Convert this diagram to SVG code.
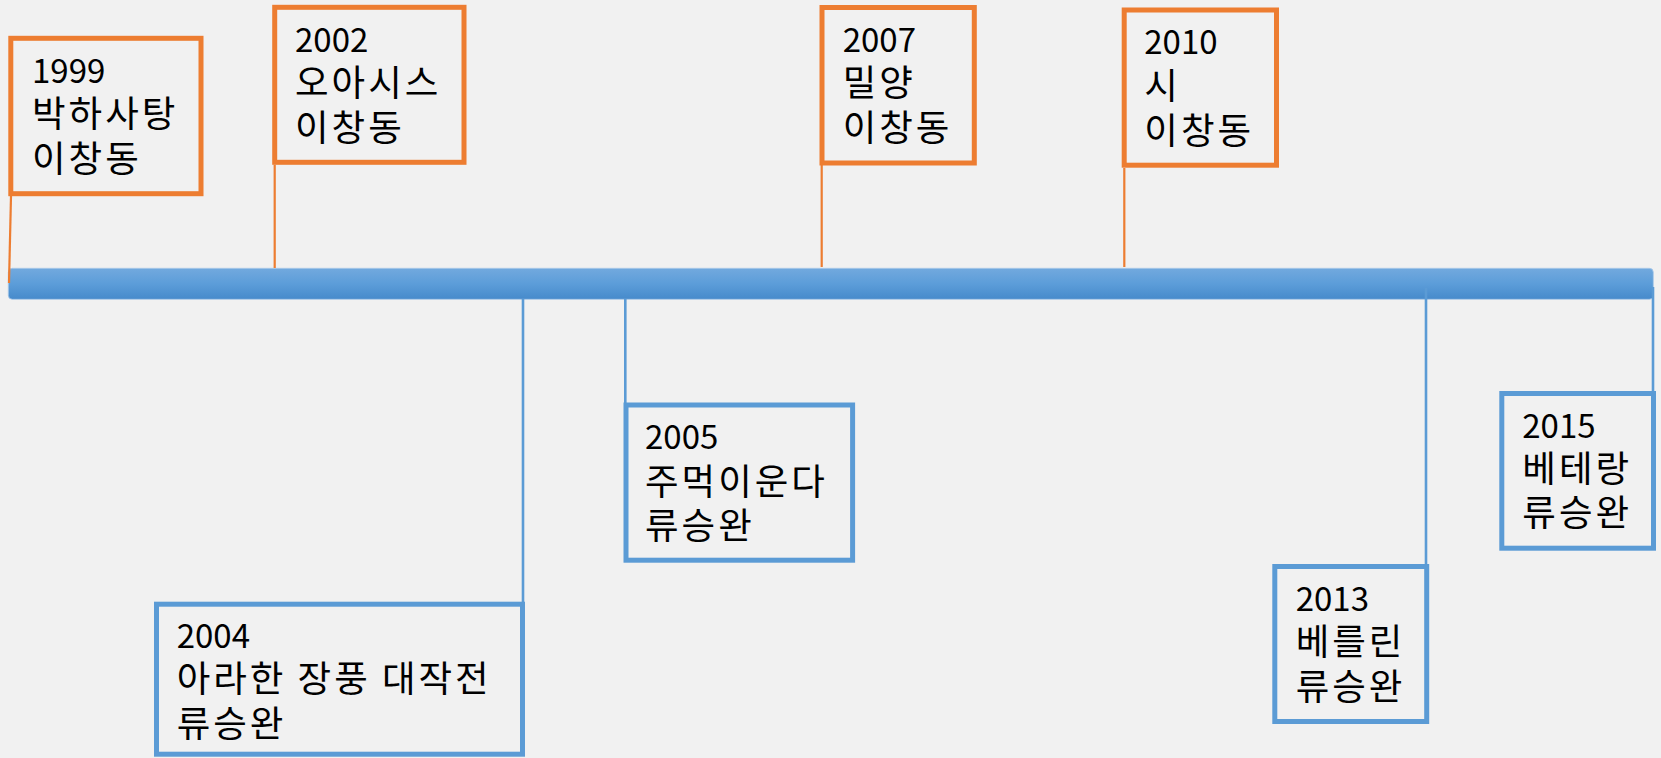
<svg xmlns="http://www.w3.org/2000/svg" width="1661" height="758" viewBox="0 0 1661 758">
<defs>
<linearGradient id="barGrad" x1="0" y1="0" x2="0" y2="1">
<stop offset="0" stop-color="#72a9de"/>
<stop offset="0.5" stop-color="#5c9dd9"/>
<stop offset="1" stop-color="#468acb"/>
</linearGradient>
<style>
.bg{fill:#f1f1f1}
.bo{fill:none;stroke:#ed7d31;stroke-width:5}
.bb{fill:none;stroke:#5b9bd5;stroke-width:5}
.co{stroke:#ed7d31;stroke-width:2.2;fill:none}
.cb{stroke:#5b9bd5;stroke-width:2.6;fill:none}
.t{font-family:"Noto Sans CJK KR","Liberation Sans",sans-serif;fill:#000}
.y{font-size:33px}
.k{font-size:36.5px;letter-spacing:3px}
</style>
</defs>
<rect class="bg" x="0" y="0" width="1661" height="758"/>
<g id="timeline">
<rect x="8.3" y="268.3" width="1645" height="31" rx="4" fill="url(#barGrad)" stroke="#a9c9ea" stroke-width="0.8"/>
</g>
<g id="connectors">
<line class="co" x1="11" y1="196" x2="9" y2="283"/>
<line class="co" x1="274.7" y1="164.7" x2="274.7" y2="268"/>
<line class="co" x1="821.7" y1="165" x2="821.7" y2="267"/>
<line class="co" x1="1124.3" y1="168" x2="1124.3" y2="267"/>
<line class="cb" x1="523" y1="299" x2="523" y2="602"/>
<line class="cb" x1="625.3" y1="299" x2="625.3" y2="403"/>
<line class="cb" x1="1426" y1="288" x2="1426" y2="565"/>
<line class="cb" x1="1653" y1="287" x2="1653" y2="392"/>
</g>
<g id="n1999">
<rect class="bo" x="10.8" y="38.3" width="190.2" height="155.4"/>
<text class="t"><tspan class="y" x="32" y="82.5">1999</tspan><tspan class="k" x="32" y="127">박하사탕</tspan><tspan class="k" x="32" y="172">이창동</tspan></text>
</g>
<g id="n2002">
<rect class="bo" x="274.7" y="7.3" width="189.3" height="155"/>
<text class="t"><tspan class="y" x="295" y="51.7">2002</tspan><tspan class="k" x="295" y="96">오아시스</tspan><tspan class="k" x="295" y="141">이창동</tspan></text>
</g>
<g id="n2007">
<rect class="bo" x="822" y="7.5" width="152.3" height="155.5"/>
<text class="t"><tspan class="y" x="842.7" y="51.7">2007</tspan><tspan class="k" x="842.7" y="96">밀양</tspan><tspan class="k" x="842.7" y="141">이창동</tspan></text>
</g>
<g id="n2010">
<rect class="bo" x="1124.2" y="10" width="152.3" height="155.2"/>
<text class="t"><tspan class="y" x="1144.3" y="54">2010</tspan><tspan class="k" x="1144.3" y="98.5">시</tspan><tspan class="k" x="1144.3" y="143.5">이창동</tspan></text>
</g>
<g id="n2004">
<rect class="bb" x="156.5" y="604.2" width="366" height="150"/>
<text class="t"><tspan class="y" x="176.7" y="648.3">2004</tspan><tspan class="k" x="176.7" y="692">아라한 장풍 대작전</tspan><tspan class="k" x="176.7" y="737">류승완</tspan></text>
</g>
<g id="n2005">
<rect class="bb" x="626" y="405" width="226.6" height="155.2"/>
<text class="t"><tspan class="y" x="645" y="449.3">2005</tspan><tspan class="k" x="645" y="494.5">주먹이운다</tspan><tspan class="k" x="645" y="539">류승완</tspan></text>
</g>
<g id="n2013">
<rect class="bb" x="1274.8" y="566.5" width="151.9" height="155"/>
<text class="t"><tspan class="y" x="1295.7" y="611">2013</tspan><tspan class="k" x="1295.7" y="655">베를린</tspan><tspan class="k" x="1295.7" y="700">류승완</tspan></text>
</g>
<g id="n2015">
<rect class="bb" x="1501.8" y="393.5" width="151.7" height="154.7"/>
<text class="t"><tspan class="y" x="1522.3" y="437.7">2015</tspan><tspan class="k" x="1522.3" y="481.5">베테랑</tspan><tspan class="k" x="1522.3" y="526">류승완</tspan></text>
</g>
</svg>
